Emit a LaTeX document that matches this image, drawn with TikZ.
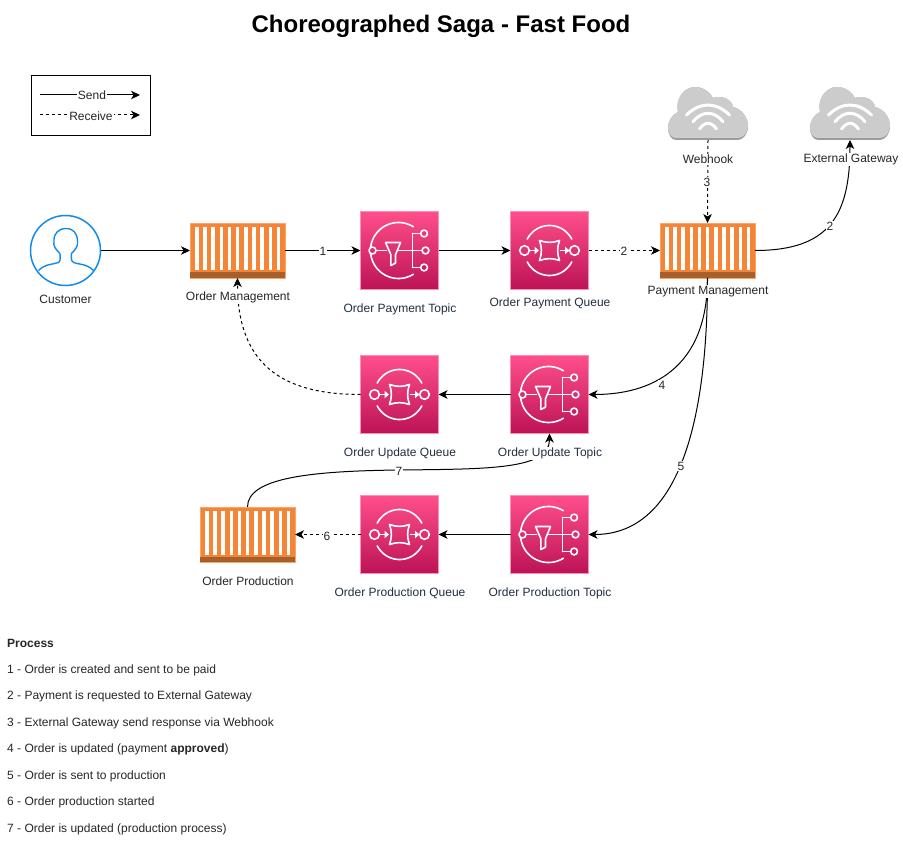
\documentclass[tikz,border=0pt]{standalone}
\usepackage{fontspec}
\setmainfont{Liberation Sans}
\usetikzlibrary{arrows.meta}
\definecolor{awstext}{HTML}{232F3E}
\definecolor{pinktop}{HTML}{FF4F8B}
\definecolor{pinkbot}{HTML}{BC1356}
\definecolor{pinkedge}{HTML}{FF8DB5}
\definecolor{orangeb}{HTML}{F58536}
\definecolor{orangee}{HTML}{FCA56B}
\definecolor{orangeband}{HTML}{A8602A}
\definecolor{cloudc}{HTML}{CCCCCC}
\definecolor{cloudd}{HTML}{9C9C9C}
\definecolor{personc}{HTML}{0F8BEA}
\tikzset{
  x=1pt,y=-1pt,
  awsbox/.style={rectangle,draw=pinkedge,line width=0.8pt,top color=pinktop,bottom color=pinkbot,minimum size=78pt,inner sep=0pt,outer sep=0pt},
  bucketbox/.style={rectangle,draw=orangee,line width=0.6pt,fill=orangeb,minimum width=95pt,minimum height=55pt,inner sep=0pt,outer sep=0pt},
  cloudbox/.style={rectangle,minimum width=80pt,minimum height=54pt,inner sep=0pt,outer sep=0pt},
  personbox/.style={circle,draw=personc,line width=1.5pt,minimum size=70pt,inner sep=0pt,outer sep=0pt},
  iconline/.style={draw=white,line width=1.6pt,line cap=round,line join=round},
  send/.style={draw=black,line width=1pt,-{Stealth[length=9pt,width=8.5pt,inset=2.5pt]}},
  recv/.style={send,dash pattern=on 3pt off 3pt},
  lbl/.style={font=\fontsize{12}{14}\selectfont,fill=white,inner sep=1pt,text=awstext,yshift=-1.2pt},
  lblk/.style={font=\fontsize{12}{14}\selectfont,fill=white,inner sep=1pt,text=black!85,yshift=-1.2pt},
  num/.style={font=\fontsize{12}{14}\selectfont,fill=white,inner sep=1pt,text=black!85,yshift=-1pt},
  proc/.style={font=\fontsize{12}{14}\selectfont,anchor=west,inner sep=0pt,text=black!85,yshift=-1.5pt},
  ttl/.style={font=\fontsize{24}{28}\selectfont\bfseries,text=black,yshift=-1.5pt},
  legendbox/.style={rectangle,draw=black,line width=0.9pt,minimum width=119pt,minimum height=60pt,inner sep=0pt},
}
\newcommand{\snsicon}[3]{%
  \node[awsbox] (#1) at (#2,#3) {};
  \begin{scope}[shift={(#1.center)}]
    \draw[iconline] plot[domain=58:302,samples=60] ({28*cos(\x)-1},{-28*sin(\x)});
    \draw[iconline] (-23.5,0) -- (-13,0);
    \draw[iconline] (-14,-8) -- (1,-8) -- (-4,4.3) -- (-4,12.6) -- (-8.6,15) -- (-8.6,4.3) -- cycle;
    \draw[iconline] (-2,0) -- (22,0);
    \draw[iconline] (13,-17) -- (13,17);
    \draw[iconline] (13,-17) -- (21,-17);
    \draw[iconline] (13,17) -- (21,17);
    \draw[iconline,fill=pinkbot!55!pinktop] (-27,0) circle[radius=3.5];
    \draw[iconline,fill=pinktop!65!pinkbot] (24.6,-17) circle[radius=3.4];
    \draw[iconline,fill=pinkbot!55!pinktop] (26,0) circle[radius=3.4];
    \draw[iconline,fill=pinkbot!80!pinktop] (24.6,17) circle[radius=3.4];
  \end{scope}}
\newcommand{\sqsicon}[3]{%
  \node[awsbox] (#1) at (#2,#3) {};
  \begin{scope}[shift={(#1.center)}]
    \draw[iconline] plot[domain=27:153,samples=36] ({25*cos(\x)},{-25*sin(\x)});
    \draw[iconline] plot[domain=207:333,samples=36] ({25*cos(\x)},{-25*sin(\x)});
    \draw[iconline] (-25,0) circle[radius=4.8];
    \draw[iconline] (25,0) circle[radius=4.8];
    \draw[iconline] (-10,-10) .. controls (-3,-7.5) and (3,-7.5) .. (10,-10) .. controls (7.5,-3) and (7.5,3) .. (10,10) .. controls (3,7.5) and (-3,7.5) .. (-10,10) .. controls (-7.5,3) and (-7.5,-3) .. cycle;
    \draw[iconline] (-19,0) -- (-14,0);
    \draw[iconline] (11,0) -- (16,0);
    \fill[white] (-15,-3.8) -- (-10.5,0) -- (-15,3.8) -- cycle;
    \fill[white] (15.5,-3.8) -- (20,0) -- (15.5,3.8) -- cycle;
  \end{scope}}
\newcommand{\bucketicon}[3]{%
  \node[bucketbox] (#1) at (#2,#3) {};
  \begin{scope}[shift={(#1.north west)}]
    \foreach \s in {0,...,10} {
      \fill[white] ({5+\s*8.17},4) rectangle ++(3.6,43.5);
    }
    \fill[orangeband] (0,49.5) rectangle (95,55);
  \end{scope}}
\newcommand{\cloudicon}[3]{%
  \node[cloudbox] (#1) at (#2,#3) {};
  \begin{scope}[shift={(#1.center)}]
    \fill[cloudd] (-32,27) .. controls (-37,27) and (-40,21) .. (-40,15) .. controls (-40,8) and (-36,2) .. (-30,-1) .. controls (-33,-14) and (-24,-26) .. (-13,-26) .. controls (-5,-26) and (2,-21) .. (5,-15) .. controls (13,-18) and (24,-14) .. (25,-6) .. controls (34,-4) and (40,5) .. (40,13) .. controls (40,21) and (35,27) .. (30,27) -- cycle;
    \fill[cloudc] (-32,25) .. controls (-37,25) and (-40,20) .. (-40,15) .. controls (-40,8) and (-36,2) .. (-30,-1) .. controls (-33,-14) and (-24,-26) .. (-13,-26) .. controls (-5,-26) and (2,-21) .. (5,-15) .. controls (13,-18) and (24,-14) .. (25,-6) .. controls (34,-4) and (40,5) .. (40,13) .. controls (40,20) and (35,25) .. (30,25) -- cycle;
    \draw[white,line width=3pt,line cap=round] (-21.5,2) .. controls (-8,-11.3) and (8,-11.3) .. (21.5,2);
    \draw[white,line width=3pt,line cap=round] (-15,8.7) .. controls (-6,-2.5) and (6,-2.5) .. (15,8.7);
    \draw[white,line width=3pt,line cap=round] (-8.5,16) .. controls (-3,8.4) and (3,8.4) .. (8.5,16);
  \end{scope}}
\begin{document}
\begin{tikzpicture}
\useasboundingbox (0,0) rectangle (903,861);
% icons
\node[personbox] (customer) at (65.5,250.5) {};
\begin{scope}[shift={(customer.center)}]
  \draw[personc,line width=1.4pt,line join=round]
    (-27,20) .. controls (-20,13) and (-12,14) .. (-7,12)
    .. controls (-4.5,10.5) and (-5.5,6) .. (-5.5,3)
    .. controls (-10,-1) and (-12.5,-5) .. (-11.5,-9)
    .. controls (-12,-17) and (-7,-22) .. (0.5,-22)
    .. controls (8,-22) and (12,-17) .. (12,-9)
    .. controls (13,-5) and (10,-1) .. (6,3)
    .. controls (6,6) and (5,10.5) .. (8,12)
    .. controls (13,14) and (21,13) .. (28,20);
\end{scope}
\bucketicon{om}{237.5}{250.5}
\bucketicon{pm}{707.5}{250.5}
\bucketicon{op}{247.5}{534.5}
\snsicon{paytopic}{399.5}{250.5}
\sqsicon{payqueue}{549.5}{250.5}
\sqsicon{updqueue}{399.5}{394.5}
\snsicon{updtopic}{549.5}{394.5}
\sqsicon{prodqueue}{399.5}{534.5}
\snsicon{prodtopic}{549.5}{534.5}
\cloudicon{webhook}{708}{113}
\cloudicon{extgw}{850}{113}
% legend
\node[legendbox] (legend) at (90.5,105) {};
\coordinate (s1) at (40,95);
\coordinate (s2) at (140,95);
\coordinate (r1) at (40,115);
\coordinate (r2) at (140,115);
% connectors
\draw[send] (customer.east |- customer.center) -- (om.west);
\draw[send] (om.east) -- (paytopic.west);
\draw[send] (paytopic.east) -- (payqueue.west);
\draw[recv] (payqueue.east) -- (pm.west);
\draw[send] (pm.east) .. controls +(75,0) and +(0,75) .. (extgw.south);
\draw[recv] (webhook.south) -- (pm.north);
\draw[send] (pm.south) .. controls +(0,92) and +(61,0) .. (updtopic.east);
\draw[send] (pm.south) .. controls +(0,142) and +(91,0) .. (prodtopic.east);
\draw[send] (updtopic.west) -- (updqueue.east);
\draw[recv] (updqueue.west) .. controls +(-80,0) and +(0,85) .. (om.south);
\draw[send] (prodtopic.west) -- (prodqueue.east);
\draw[recv] (prodqueue.west) -- (op.east);
\draw[send] (op.north) .. controls +(0,-29) and +(-90,1) .. (399.5,470) .. controls +(90,-1) and +(0,36) .. (updtopic.south);
\draw[send] (s1) -- (s2);
\draw[recv] (r1) -- (r2);
% labels
\node[lblk] (l1) at (92,94) {Send};
\node[lblk] (l2) at (91,115) {Receive};
\node[ttl] (title) at (441,25) {Choreographed Saga - Fast Food};
\node[lblk] (t1) at (65.5,298) {Customer};
\node[lblk] (t2) at (238,296) {Order Management};
\node[lbl] (t3) at (400,308) {Order Payment Topic};
\node[lbl] (t4) at (550,302) {Order Payment Queue};
\node[lblk] (t5) at (708,290) {Payment Management};
\node[lblk] (t6) at (708,158) {Webhook};
\node[lblk] (t7) at (851,158) {External Gateway};
\node[lbl] (t8) at (400,452) {Order Update Queue};
\node[lbl] (t9) at (550,452) {Order Update Topic};
\node[lblk] (t10) at (248,580) {Order Production};
\node[lbl] (t11) at (400,592) {Order Production Queue};
\node[lbl] (t12) at (550,592) {Order Production Topic};
\node[num] (n1) at (323,250) {1};
\node[num] (n2) at (624,250) {2};
\node[num] (n2b) at (830,225) {2};
\node[num] (n3) at (707,181) {3};
\node[num] (n4) at (662,384) {4};
\node[num] (n5) at (681,465) {5};
\node[num] (n6) at (327,535) {6};
\node[num] (n7) at (399,470) {7};
\node[proc] (p0) at (7,642) {\bfseries Process};
\node[proc] (p1) at (7,668.5) {1 - Order is created and sent to be paid};
\node[proc] (p2) at (7,695) {2 - Payment is requested to External Gateway};
\node[proc] (p3) at (7,721.5) {3 - External Gateway send response via Webhook};
\node[proc] (p4) at (7,748) {4 - Order is updated (payment \textbf{approved})};
\node[proc] (p5) at (7,774.5) {5 - Order is sent to production};
\node[proc] (p6) at (7,801) {6 - Order production started};
\node[proc] (p7) at (7,827.5) {7 - Order is updated (production process)};
\end{tikzpicture}
\end{document}
